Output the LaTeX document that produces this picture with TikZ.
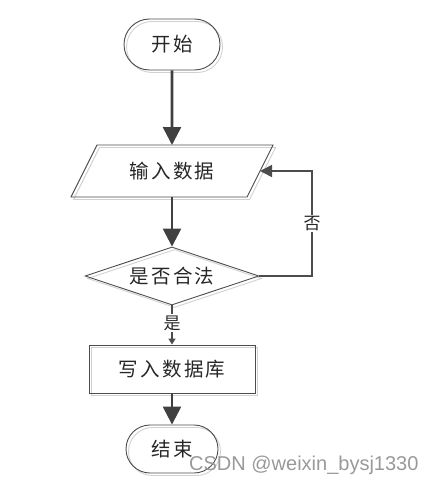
\documentclass[tikz,border=0pt]{standalone}
\usepackage{fontspec}
\newfontfamily\cjk[LetterSpace=12]{Noto Sans CJK SC}
\newfontfamily\wm{Liberation Sans}
\usetikzlibrary{shapes.geometric,shapes.misc,arrows.meta,shadows}
\begin{document}
\begin{tikzpicture}[x=1pt,y=1pt,
  txt/.style={font=\cjk\fontsize{19.5}{22}\selectfont, text=black!85},
  box/.style={txt, draw=black!70, line width=0.9pt, inner sep=0pt,
    copy shadow={shadow xshift=2.5pt, shadow yshift=-2.5pt, draw=black!18, fill=none, opacity=1}},
  term/.style={box, rounded rectangle, minimum width=96pt, minimum height=51pt},
  outline/.style={draw=black!70, line width=0.9pt},
  shadowline/.style={draw=black!18, line width=0.9pt},
  dec/.style={box, diamond, aspect=3, minimum width=174pt, minimum height=58pt},
  proc/.style={box, rectangle, minimum width=166pt, minimum height=48pt},
  bigarrow/.style={draw=black!75, line width=2.6pt, -{Triangle[length=18pt,width=18pt]}},
  fbarrow/.style={draw=black!70, line width=1.6pt, -{Triangle[length=12pt,width=12pt]}},
  yesline/.style={draw=black!70, line width=1.4pt, -{Triangle[length=6pt,width=7pt]}},
  lbl/.style={fill=white, font=\cjk\fontsize{17}{19}\selectfont, text=black!85, inner sep=1.5pt}
]
\useasboundingbox (0,0) rectangle (421,-484);
% parallelogram corners
\coordinate (p1) at (97,-145);
\coordinate (p2) at (273,-145);
\coordinate (p3) at (247,-197);
\coordinate (p4) at (71,-197);
\coordinate (intop) at (172,-145);
\coordinate (inbot) at (172,-197);
\coordinate (inright) at (260,-171);
\draw[shadowline] ([shift={(2.5,-2.5)}]p1) -- ([shift={(2.5,-2.5)}]p2) -- ([shift={(2.5,-2.5)}]p3) -- ([shift={(2.5,-2.5)}]p4) -- cycle;
\draw[outline] (p1) -- (p2) -- (p3) -- (p4) -- cycle;
\node[txt] (in) at (172,-171) {输入数据};
\node[term] (s) at (172,-44.5) {开始};
\node[dec] (d) at (172,-276) {是否合法};
\node[proc] (w) at (172,-369) {写入数据库};
\node[term, minimum width=92pt, minimum height=48pt] (e) at (172,-449) {结束};
\coordinate (fb) at (312,-222);
\draw[bigarrow] (s) -- (intop);
\draw[bigarrow] (inbot) -- (d);
\draw[bigarrow] (w) -- (e);
\draw[yesline] (d.south) -- node[lbl, pos=0.45] (yes) {是} (w.north);
\draw[fbarrow] (d.east) -| node[lbl, pos=0.75] (no) {否} (fb |- inright) -- (inright);
\node[anchor=west, font=\wm\fontsize{20}{22}\selectfont, text=black!40, inner sep=0pt] (wmk) at (189,-465) {CSDN @weixin\_bysj1330};
\end{tikzpicture}
\end{document}
